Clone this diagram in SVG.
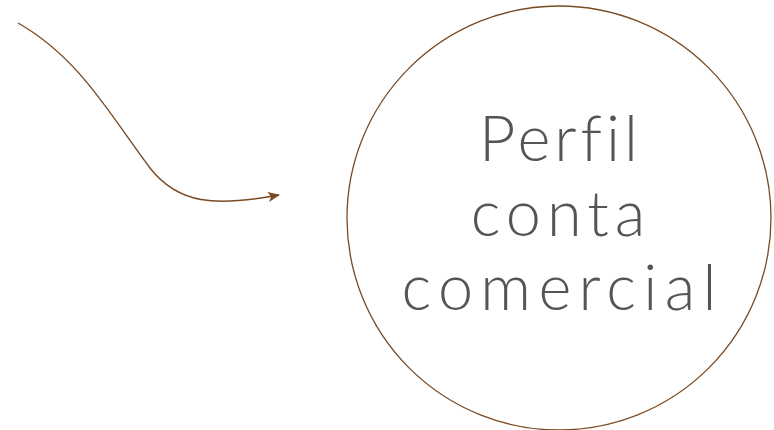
<svg xmlns="http://www.w3.org/2000/svg" width="774" height="430" viewBox="0 0 774 430">
<style>
.edge{fill:none;stroke:#7a4a22;stroke-width:1.4}
.node{fill:#fff;stroke:#7a4a22;stroke-width:1.3}
.lbl{font-family:Lato,"Liberation Sans",sans-serif;font-weight:300;font-size:63px;fill:#555;letter-spacing:6px;text-anchor:middle}
</style>
<defs>
<marker id="ah" viewBox="0 0 12 10" refX="11" refY="5" markerWidth="12" markerHeight="10" markerUnits="userSpaceOnUse" orient="auto">
<path d="M0,0 L12,5 L0,10 L3,5 Z" fill="#7a4a22"/>
</marker>
</defs>
<rect width="774" height="430" fill="#fff"/>
<g id="connectors">
<path class="edge" d="M18,23 C80,58 112,118 150,168 C178,204 215,207 279,195" marker-end="url(#ah)"/>
</g>
<g id="node-perfil">
<circle class="node" cx="559" cy="218" r="212"/>
<text class="lbl" x="560.5" y="161" style="letter-spacing:4px">Perfil</text>
<text class="lbl" x="561" y="236">conta</text>
<text class="lbl" x="562.6" y="310" style="letter-spacing:7.3px">comercial</text>
</g>
</svg>
